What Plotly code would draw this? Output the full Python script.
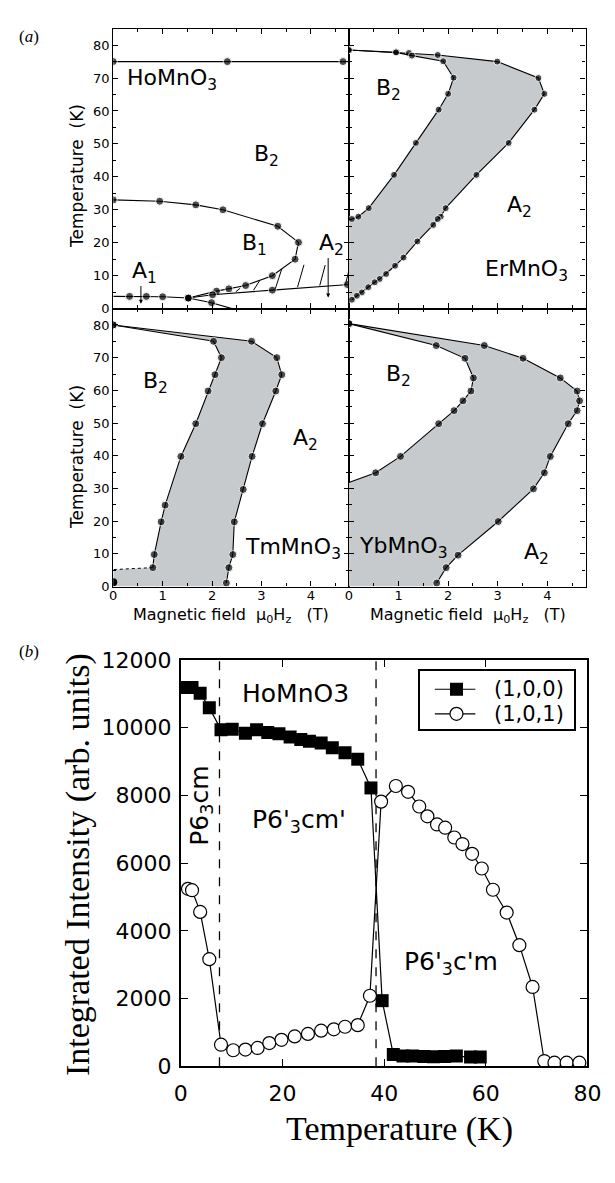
import plotly.graph_objects as go

# ================= DATA =================
# ---- panel (a): HoMnO3 ----
ho_tn_field = [0.0, 2.31, 4.65, 4.85]
ho_tn_temp = [75.0, 75.0, 75.0, 75.0]
ho_b1_field = [0.0, 0.94, 1.67, 2.22, 3.33, 3.75, 3.68, 3.22, 2.68, 2.34, 2.09, 1.52]
ho_b1_temp = [33.0, 32.6, 31.5, 30.0, 25.0, 20.1, 15.0, 10.0, 7.0, 6.0, 5.3, 3.2]
ho_a1_field = [0.0, 0.33, 0.67, 1.00, 1.52]
ho_a1_temp = [3.7, 3.7, 3.7, 3.6, 3.2]
ho_a2_field = [1.52, 2.01, 3.22, 4.74, 4.85]
ho_a2_temp = [3.2, 4.2, 5.6, 7.3, 7.4]
ho_low_field = [1.52, 1.99, 2.40]
ho_low_temp = [3.2, 1.8, 0.0]
ho_hatch_f0 = [2.48, 2.84, 3.28, 3.73, 4.18, 4.70]
ho_hatch_t0 = [5.1, 5.6, 6.0, 6.5, 7.0, 7.3]
ho_hatch_f1 = [2.57, 2.96, 3.41, 3.86, 4.29, 4.80]
ho_hatch_t1 = [6.2, 8.4, 12.0, 13.3, 13.2, 13.5]
ho_arrow_field = [0.56, 4.35]
ho_arrow_from = [7.3, 15.8]
ho_arrow_to = [1.5, 3.4]

# ---- ErMnO3 ----
er_outer_field = [0.0, 0.95, 1.21, 1.79, 2.99, 3.82, 3.94, 3.74, 3.22, 2.57, 1.95, 1.85, 1.79,
                  1.70, 1.38, 1.10, 0.93, 0.75, 0.62, 0.52, 0.39, 0.26, 0.16, 0.06]
er_outer_temp = [78.5, 77.8, 77.6, 77.0, 75.0, 70.0, 65.2, 60.4, 50.3, 40.6, 30.5, 27.9, 27.2,
                 25.4, 20.4, 15.5, 13.0, 10.5, 9.0, 8.0, 6.5, 4.9, 3.9, 2.7]
er_inner_field = [0.0, 0.95, 1.27, 1.90, 2.11, 2.00, 1.81, 1.35, 0.91, 0.40, 0.19, 0.06, 0.0]
er_inner_temp = [78.5, 77.8, 76.8, 75.1, 70.1, 65.2, 60.4, 50.3, 40.6, 30.5, 27.9, 27.2, 26.8]

# ---- TmMnO3 ----
tm_outer_field = [0.0, 2.80, 3.31, 3.41, 3.29, 3.02, 2.81, 2.63, 2.45, 2.42, 2.34, 2.29]
tm_outer_temp = [80.0, 75.0, 70.0, 64.8, 59.8, 49.8, 39.8, 29.7, 19.8, 9.8, 5.8, 1.1]
tm_inner_field = [0.0, 2.03, 2.19, 2.06, 1.92, 1.67, 1.37, 1.05, 0.97, 0.83, 0.80]
tm_inner_temp = [80.0, 75.0, 70.0, 64.8, 59.8, 49.8, 39.8, 24.9, 19.8, 9.8, 5.8]
tm_dash_field = [0.80, 0.0]
tm_dash_temp = [5.8, 5.2]
tm_low_field = [0.0]
tm_low_temp = [1.3]

# ---- YbMnO3 ----
yb_outer_field = [0.0, 2.73, 3.51, 4.26, 4.60, 4.65, 4.60, 4.42, 4.06, 3.94, 3.72, 3.01, 2.20, 1.96, 1.77]
yb_outer_temp = [80.4, 73.7, 69.8, 63.8, 59.8, 56.8, 53.8, 49.8, 39.8, 34.8, 29.9, 19.9, 9.6, 5.8, 1.1]
yb_inner_field = [0.0, 1.76, 2.34, 2.51, 2.46, 2.30, 2.12, 1.81, 1.04, 0.54, 0.0]
yb_inner_temp = [80.4, 73.7, 69.8, 63.8, 59.8, 56.8, 53.8, 49.8, 39.8, 34.8, 31.8]

# ---- panel (b) ----
t_100 = [0.95, 2.2, 3.8, 5.6, 7.9, 10.1, 12.7, 14.9, 17.1, 19.3, 21.5, 23.6, 25.3, 27.6, 29.8,
         32.3, 34.8, 37.4, 39.6, 41.8, 43.7, 45.6, 47.8, 49.7, 51.9, 54.2, 57.0, 58.9]
i_100 = [11190, 11190, 11017, 10592, 9937, 9956, 9840, 9937, 9860, 9822, 9725, 9650, 9600, 9551, 9407,
         9262, 9070, 8221, 1937, 347, 300, 300, 290, 280, 290, 300, 270, 270]
t_101 = [1.4, 2.2, 3.8, 5.6, 7.9, 10.3, 12.7, 15.1, 17.4, 19.8, 22.4, 25.0, 27.6, 30.1, 32.3,
         34.8, 37.2, 39.4, 42.3, 44.7, 46.9, 48.5, 50.4, 52.0, 53.8, 55.4, 57.3, 59.2, 61.4,
         64.1, 66.6, 69.2, 71.5, 73.5, 75.9, 78.4]
i_101 = [5240, 5200, 4559, 3162, 636, 472, 492, 540, 684, 781, 880, 954, 1051, 1090, 1166,
         1214, 2082, 7817, 8279, 8106, 7672, 7383, 7142, 7046, 6757, 6564, 6275, 5841, 5214,
         4540, 3576, 2342, 154, 106, 106, 106]
series_names = ["(1,0,0)", "(1,0,1)"]
transitions_T = [7.6, 38.4]

# ================= LAYOUT GEOMETRY (pixels) =================
W, H = 615, 1183
AL, AM, AR = 110, 354, 599
AT, AMY, AB = 17, 303, 587
BL_, BR_, BT, BB = 180, 601, 662, 1077
LG = (428, 587, 673, 732)  # legend box l, r, t, b
GRAY = "#c6cacd"
FONT = "DejaVu Sans"


def fx(p):
    return p / W


def fy(p):
    return 1 - p / H


fig = go.Figure()


def poly(inner_f, inner_t, outer_f, outer_t, mid_f, mid_t):
    xs = list(inner_f) + list(mid_f) + list(reversed(outer_f))
    ys = list(inner_t) + list(mid_t) + list(reversed(outer_t))
    return xs, ys


def boundary(xs, ys, ax, ay, sizes=None, msize=7):
    if sizes is None:
        sizes = [msize] * len(xs)
    fig.add_trace(go.Scatter(x=xs, y=ys, xaxis=ax, yaxis=ay, mode="lines+markers",
                             line=dict(color="black", width=1.1),
                             marker=dict(color="black", size=sizes),
                             showlegend=False, hoverinfo="skip"))


def fill(xs, ys, ax, ay):
    fig.add_trace(go.Scatter(x=xs, y=ys, xaxis=ax, yaxis=ay, mode="none", fill="toself",
                             fillcolor=GRAY, showlegend=False, hoverinfo="skip"))


# ---- HoMnO3 (x, y) ----
n = len(ho_tn_field)
boundary(ho_tn_field, ho_tn_temp, "x", "y", sizes=[8] * (n - 1) + [0])
boundary(ho_b1_field, ho_b1_temp, "x", "y", msize=8)
boundary(ho_a1_field, ho_a1_temp, "x", "y", sizes=[0] + [8] * (len(ho_a1_field) - 1))
boundary(ho_a2_field, ho_a2_temp, "x", "y", sizes=[8] * (len(ho_a2_field) - 1) + [0])
boundary(ho_low_field, ho_low_temp, "x", "y", sizes=[8, 8, 0])
hx, hy = [], []
for a, b, c, d in zip(ho_hatch_f0, ho_hatch_t0, ho_hatch_f1, ho_hatch_t1):
    hx += [a, c, None]
    hy += [b, d, None]
fig.add_trace(go.Scatter(x=hx, y=hy, xaxis="x", yaxis="y", mode="lines",
                         line=dict(color="black", width=1), showlegend=False, hoverinfo="skip"))

# ---- ErMnO3 (x2, y2) ----
xs, ys = poly(er_inner_field, er_inner_temp, er_outer_field, er_outer_temp, [0.0], [2.2])
fill(xs, ys, "x2", "y2")
boundary(er_outer_field, er_outer_temp, "x2", "y2")
boundary(er_inner_field, er_inner_temp, "x2", "y2", sizes=[7] * (len(er_inner_field) - 1) + [0])

# ---- TmMnO3 (x3, y3) ----
xs, ys = poly(tm_inner_field, tm_inner_temp, tm_outer_field, tm_outer_temp,
              [0.0, 0.0, 2.28], [5.2, 0.0, 0.0])
fill(xs, ys, "x3", "y3")
boundary(tm_outer_field, tm_outer_temp, "x3", "y3", msize=8)
boundary(tm_inner_field, tm_inner_temp, "x3", "y3", msize=8)
fig.add_trace(go.Scatter(x=tm_dash_field, y=tm_dash_temp, xaxis="x3", yaxis="y3", mode="lines",
                         line=dict(color="black", width=1, dash="dot"), showlegend=False))
fig.add_trace(go.Scatter(x=tm_low_field, y=tm_low_temp, xaxis="x3", yaxis="y3", mode="markers",
                         marker=dict(color="black", size=8), showlegend=False))

# ---- YbMnO3 (x4, y4) ----
xs, ys = poly(yb_inner_field, yb_inner_temp, yb_outer_field, yb_outer_temp,
              [0.0, 1.75], [0.0, 0.0])
fill(xs, ys, "x4", "y4")
boundary(yb_outer_field, yb_outer_temp, "x4", "y4", msize=8)
boundary(yb_inner_field, yb_inner_temp, "x4", "y4", sizes=[8] * (len(yb_inner_field) - 1) + [0])

# ---- panel (b) (x5, y5) ----
for tt in transitions_T:
    fig.add_trace(go.Scatter(x=[tt, tt], y=[0, 12000], xaxis="x5", yaxis="y5", mode="lines",
                             line=dict(color="black", width=1.3, dash="dash"),
                             showlegend=False, hoverinfo="skip"))
sq_marker = dict(symbol="square", color="black", size=13)
ci_marker = dict(symbol="circle", color="white", size=13, line=dict(color="black", width=1.2))
fig.add_trace(go.Scatter(x=t_100, y=i_100, xaxis="x5", yaxis="y5", mode="lines+markers",
                         name=series_names[0], line=dict(color="black", width=1.2),
                         marker=sq_marker, showlegend=False))
fig.add_trace(go.Scatter(x=t_101, y=i_101, xaxis="x5", yaxis="y5", mode="lines+markers",
                         name=series_names[1], line=dict(color="black", width=1.2),
                         marker=ci_marker, showlegend=False))

# ---- legend drawn on its own small overlay axes (x6, y6 in 0..1) ----
leg_rows = [0.68, 0.255]
for yrow, mk in zip(leg_rows, [sq_marker, ci_marker]):
    fig.add_trace(go.Scatter(x=[0.094, 0.358], y=[yrow, yrow], xaxis="x6", yaxis="y6", mode="lines",
                             line=dict(color="black", width=1.2), showlegend=False, hoverinfo="skip"))
    fig.add_trace(go.Scatter(x=[0.235], y=[yrow], xaxis="x6", yaxis="y6", mode="markers",
                             marker=mk, showlegend=False, hoverinfo="skip", cliponaxis=False))

# ================= AXES =================
tickfont_a = dict(family=FONT, size=13, color="black")
LWA = 1.2


def xa(dom, labels):
    return dict(domain=dom, range=[0, 4.77], tick0=0, dtick=1, ticks="inside", ticklen=5,
                tickwidth=1, tickcolor="black", showline=True, linewidth=LWA, linecolor="black",
                mirror="ticks", showgrid=False, zeroline=False, showticklabels=labels,
                tickfont=tickfont_a, fixedrange=True, ticklabelstandoff=-3,
                minor=dict(dtick=0.5, ticks="inside", ticklen=3, tickcolor="black", showgrid=False))


def ya(dom, labels):
    return dict(domain=dom, range=[0, 85], tick0=0, dtick=10, ticks="inside", ticklen=5,
                tickwidth=1, tickcolor="black", showline=True, linewidth=LWA, linecolor="black",
                mirror="ticks", showgrid=False, zeroline=False, showticklabels=labels,
                tickfont=tickfont_a, fixedrange=True,
                minor=dict(dtick=5, ticks="inside", ticklen=3, tickcolor="black", showgrid=False))


xl = [fx(AL), fx(AM)]
xr = [fx(AM), fx(AR)]
yt = [fy(AMY), fy(AT)]
yb = [fy(AB), fy(AMY)]

layout = dict(
    width=W, height=H, margin=dict(l=0, r=0, t=0, b=0),
    paper_bgcolor="white", plot_bgcolor="rgba(0,0,0,0)", showlegend=False,
    xaxis=dict(xa(xl, False), anchor="y"),
    yaxis=dict(ya(yt, True), anchor="x"),
    xaxis2=dict(xa(xr, False), anchor="y2"),
    yaxis2=dict(ya(yt, False), anchor="x2"),
    xaxis3=dict(xa(xl, True), anchor="y3"),
    yaxis3=dict(ya(yb, True), anchor="x3"),
    xaxis4=dict(xa(xr, True), anchor="y4"),
    yaxis4=dict(ya(yb, False), anchor="x4"),
    xaxis5=dict(domain=[fx(BL_), fx(BR_)], anchor="y5", range=[0, 80], dtick=20, ticks="inside",
                ticklen=7, tickwidth=1.2, tickcolor="black", showline=True, linewidth=2,
                linecolor="black", mirror="ticks", showgrid=False, zeroline=False,
                tickfont=dict(family=FONT, size=22, color="black"), ticklabelstandoff=6),
    yaxis5=dict(domain=[fy(BB), fy(BT)], anchor="x5", range=[0, 12000], dtick=2000, ticks="inside",
                ticklen=7, tickwidth=1.2, tickcolor="black", showline=True, linewidth=2,
                linecolor="black", mirror="ticks", showgrid=False, zeroline=False, tickformat="d",
                tickfont=dict(family=FONT, size=22, color="black"), ticklabelstandoff=3),
    xaxis6=dict(domain=[fx(LG[0]), fx(LG[1])], anchor="y6", range=[0, 1], showline=True,
                linewidth=2, linecolor="black", mirror=True, showgrid=False, zeroline=False,
                showticklabels=False, ticks="", fixedrange=True),
    yaxis6=dict(domain=[fy(LG[3]), fy(LG[2])], anchor="x6", range=[0, 1], showline=True,
                linewidth=2, linecolor="black", mirror=True, showgrid=False, zeroline=False,
                showticklabels=False, ticks="", fixedrange=True),
)
fig.update_layout(**layout)

# ================= TEXT =================
ann = []


def lab(text, x, y, xr_, yr_, size=22, xanchor="center"):
    ann.append(dict(text=text, x=x, y=y, xref=xr_, yref=yr_, showarrow=False,
                    xanchor=xanchor, yanchor="middle",
                    font=dict(family=FONT, size=size, color="black")))


lab("HoMnO<sub>3</sub>", 1.18, 69.5, "x", "y")
lab("B<sub>2</sub>", 3.11, 46.5, "x", "y")
lab("B<sub>1</sub>", 2.86, 19.5, "x", "y")
lab("A<sub>1</sub>", 0.63, 11.0, "x", "y")
lab("A<sub>2</sub>", 4.41, 19.5, "x", "y")
lab("B<sub>2</sub>", 0.80, 66.5, "x2", "y2")
lab("A<sub>2</sub>", 3.43, 31.0, "x2", "y2")
lab("ErMnO<sub>3</sub>", 3.57, 11.5, "x2", "y2")
lab("B<sub>2</sub>", 0.85, 62.5, "x3", "y3")
lab("A<sub>2</sub>", 3.90, 45.0, "x3", "y3")
lab("TmMnO<sub>3</sub>", 3.63, 11.5, "x3", "y3")
lab("B<sub>2</sub>", 0.99, 64.5, "x4", "y4")
lab("A<sub>2</sub>", 3.79, 10.0, "x4", "y4")
lab("YbMnO<sub>3</sub>", 1.09, 12.0, "x4", "y4")

for f, t0, t1 in zip(ho_arrow_field, ho_arrow_from, ho_arrow_to):
    ann.append(dict(text="", x=f, y=t1, ax=f, ay=t0, xref="x", yref="y", axref="x", ayref="y",
                    showarrow=True, arrowhead=2, arrowsize=0.8, arrowwidth=1, arrowcolor="black"))

# panel (b) texts
lab("HoMnO3", 22.6, 11000, "x5", "y5", size=25)
lab("P6'<sub>3</sub>cm'", 23.2, 7250, "x5", "y5", size=25)
lab("P6'<sub>3</sub>c'm", 53.2, 3050, "x5", "y5", size=25)
ann.append(dict(text="P6<sub>3</sub>cm", x=3.8, y=7700, xref="x5", yref="y5", showarrow=False,
                textangle=-90, xanchor="center", yanchor="middle",
                font=dict(family=FONT, size=25, color="black")))
for yrow, name in zip(leg_rows, series_names):
    lab(name, 0.465, yrow, "x6", "y6", size=21, xanchor="left")

# axis titles (paper)
for yc in [(AT + AMY) / 2 + 8, (AMY + AB) / 2 + 10]:
    ann.append(dict(text="Temperature  (K)", x=fx(73), y=fy(yc), xref="paper", yref="paper",
                    showarrow=False, textangle=-90, xanchor="center", yanchor="middle",
                    font=dict(family=FONT, size=17, color="black")))
for xc in [232, 477]:
    ann.append(dict(text="Magnetic field  \u03bc<sub>0</sub>H<sub>z</sub>   (T)", x=fx(xc), y=fy(617),
                    xref="paper", yref="paper", showarrow=False, xanchor="center", yanchor="middle",
                    font=dict(family=FONT, size=16, color="black")))
ann.append(dict(text="Integrated Intensity (arb. units)", x=fx(73), y=fy(871), xref="paper",
                yref="paper", showarrow=False, textangle=-90, xanchor="center", yanchor="middle",
                font=dict(family="Liberation Serif", size=34, color="black")))
ann.append(dict(text="Temperature (K)", x=fx(406), y=fy(1141), xref="paper", yref="paper",
                showarrow=False, xanchor="center", yanchor="middle",
                font=dict(family="Liberation Serif", size=34, color="black")))
ann.append(dict(text="(<i>a</i>)", x=fx(23), y=fy(25), xref="paper", yref="paper", showarrow=False,
                xanchor="center", yanchor="middle", font=dict(family="Liberation Serif", size=17, color="black")))
ann.append(dict(text="(<i>b</i>)", x=fx(23), y=fy(653), xref="paper", yref="paper", showarrow=False,
                xanchor="center", yanchor="middle", font=dict(family="Liberation Serif", size=17, color="black")))

fig.update_layout(annotations=ann)
fig.write_html("out.html")
